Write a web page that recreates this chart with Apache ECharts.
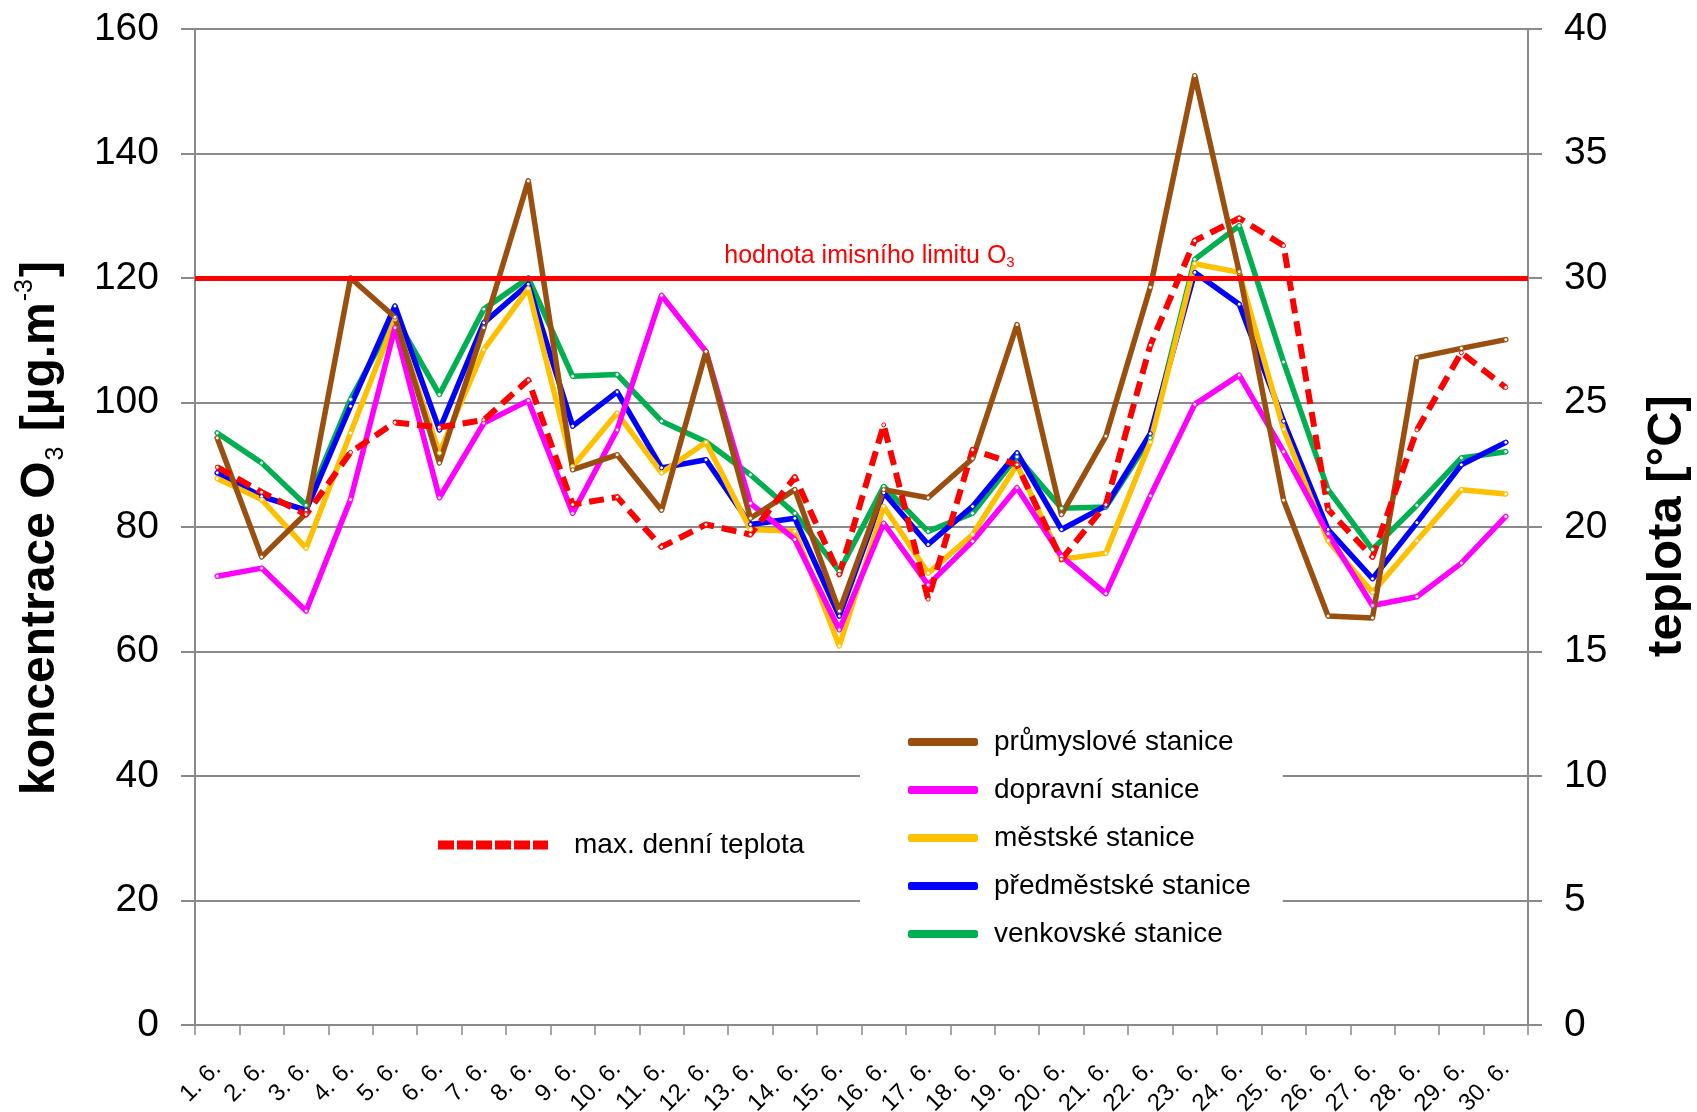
<!DOCTYPE html>
<html>
<head>
<meta charset="utf-8">
<script src="https://cdn.jsdelivr.net/npm/echarts@6/dist/echarts.min.js"></script>
<style>
  html, body { margin: 0; padding: 0; background: #fff; }
  #chart { width: 1697px; height: 1112px; }
</style>
</head>
<body>
<div id="chart"></div>
<script>
// Dny měsíce června
const dny = ['1. 6.', '2. 6.', '3. 6.', '4. 6.', '5. 6.', '6. 6.', '7. 6.', '8. 6.', '9. 6.', '10. 6.',
  '11. 6.', '12. 6.', '13. 6.', '14. 6.', '15. 6.', '16. 6.', '17. 6.', '18. 6.', '19. 6.', '20. 6.',
  '21. 6.', '22. 6.', '23. 6.', '24. 6.', '25. 6.', '26. 6.', '27. 6.', '28. 6.', '29. 6.', '30. 6.'];

// Maximální denní 8h koncentrace O3 [µg.m-3] podle typu stanice
const prumyslove = [94.3, 75.2, 82.2, 120, 113.7, 90.3, 112, 135.6, 89.2, 91.6, 82.7, 108.2, 81.4, 86, 66.5,
  86, 84.7, 91, 112.5, 82, 94.6, 118.5, 152.5, 121, 84.3, 65.7, 65.4, 107.2, 108.7, 110.1];
const dopravni = [72.1, 73.4, 66.5, 84.4, 112, 84.7, 96.7, 100.3, 82.2, 95.6, 117.2, 108.2, 83.8, 78, 63.5,
  80.6, 70.7, 77.7, 86.3, 75.3, 69.3, 85, 99.7, 104.4, 92.1, 78.9, 67.4, 68.8, 74.2, 81.7];
const mestske = [87.8, 84.4, 76.6, 95.1, 113.4, 91.9, 108.5, 118.3, 89.7, 98.3, 88.7, 93.6, 79.6, 79.3, 60.9,
  83.3, 72.6, 78.8, 90, 74.8, 75.8, 93.6, 122.3, 120.9, 95.7, 77.8, 69.5, 77.8, 86, 85.3];
const predmestske = [88.7, 84.9, 82.7, 99.4, 115.5, 95.6, 112.8, 119, 96.2, 101.7, 89.5, 90.8, 80.4, 81.4, 65.7,
  85.5, 77.2, 83.3, 91.9, 79.6, 83.4, 95, 120.9, 115.8, 97, 79.6, 71.7, 80.7, 90, 93.6];
const venkovske = [95.1, 90.3, 83.5, 100.5, 113.7, 101.3, 115, 120, 104.2, 104.5, 97, 93.7, 88.4, 82.2, 72.9,
  86.5, 79.3, 82.2, 91.3, 83, 83.2, 94.3, 123, 128.4, 106.5, 86, 76.4, 83.5, 91.1, 92.1];

// Maximální denní teplota [°C]
const teplota = [22.4, 21.4, 20.5, 23.0, 24.2, 24.0, 24.3, 25.9, 20.9, 21.2, 19.2, 20.1, 19.7, 22.0, 18.1,
  24.1, 17.1, 23.1, 22.5, 18.7, 20.9, 27.3, 31.5, 32.4, 31.3, 20.7, 18.8, 23.9, 27.0, 25.6];

// Imisní limit O3
const limitO3 = 120;

const barvy = {
  prumyslove: '#9a4f0f',
  dopravni: '#ff00ff',
  mestske: '#ffc000',
  predmestske: '#0000ff',
  venkovske: '#00b050',
  teplota: '#ff0000'
};

const FONT = 'Liberation Sans, Arial, sans-serif';
const GRID_GRAY = '#8a8a8a';

function lineSeries(name, data, color, extra) {
  return Object.assign({
    name: name,
    type: 'line',
    data: data,
    yAxisIndex: 0,
    symbol: 'circle',
    symbolSize: 4,
    showSymbol: true,
    itemStyle: { color: '#fff', borderColor: color, borderWidth: 1 },
    lineStyle: { color: color, width: 5.5, cap: 'round', join: 'round' },
    emphasis: { disabled: true },
    animation: false
  }, extra || {});
}

const chart = echarts.init(document.getElementById('chart'), null, { renderer: 'canvas' });

chart.setOption({
  backgroundColor: '#fff',
  textStyle: { fontFamily: FONT },
  grid: { left: 195, right: 169, top: 29, bottom: 87, containLabel: false, outerBoundsMode: 'none' },
  legend: [
    {
      orient: 'vertical',
      left: 860,
      top: 714,
      padding: [14, 32, 12, 48],
      backgroundColor: '#fff',
      itemWidth: 68,
      itemHeight: 6,
      itemGap: 20,
      selectedMode: false,
      textStyle: { fontFamily: FONT, fontSize: 28, color: '#000', padding: [0, 0, 0, 12] },
      data: [
        { name: 'průmyslové stanice', icon: 'roundRect', itemStyle: { color: barvy.prumyslove } },
        { name: 'dopravní stanice', icon: 'roundRect', itemStyle: { color: barvy.dopravni } },
        { name: 'městské stanice', icon: 'roundRect', itemStyle: { color: barvy.mestske } },
        { name: 'předměstské stanice', icon: 'roundRect', itemStyle: { color: barvy.predmestske } },
        { name: 'venkovské stanice', icon: 'roundRect', itemStyle: { color: barvy.venkovske } }
      ]
    },
    {
      orient: 'horizontal',
      left: 438,
      top: 831,
      padding: 0,
      itemWidth: 108,
      itemHeight: 7,
      selectedMode: false,
      textStyle: { fontFamily: FONT, fontSize: 28, color: '#000', padding: [0, 0, 0, 22] },
      data: [
        {
          name: 'max. denní teplota',
          icon: 'path://M0,0h14v7h-14z M19,0h14v7h-14z M38,0h14v7h-14z M57,0h14v7h-14z M76,0h14v7h-14z M95,0h13v7h-13z',
          itemStyle: { color: barvy.teplota }
        }
      ]
    }
  ],
  xAxis: {
    type: 'category',
    data: dny,
    boundaryGap: true,
    axisLine: { lineStyle: { color: GRID_GRAY, width: 2 } },
    axisTick: { show: true, interval: 0, length: 10, lineStyle: { color: GRID_GRAY, width: 1.5 } },
    axisLabel: { interval: 0, rotate: 45, fontSize: 24, color: '#000', margin: 40, fontFamily: FONT }
  },
  yAxis: [
    {
      type: 'value',
      min: 0,
      max: 160,
      interval: 20,
      axisLine: { show: true, lineStyle: { color: GRID_GRAY, width: 2 } },
      axisTick: { show: true, length: 14, lineStyle: { color: GRID_GRAY, width: 2 } },
      axisLabel: { fontSize: 39, color: '#000', margin: 36, fontFamily: FONT },
      splitLine: { show: true, lineStyle: { color: GRID_GRAY, width: 2 } }
    },
    {
      type: 'value',
      min: 0,
      max: 40,
      interval: 5,
      position: 'right',
      axisLine: { show: true, lineStyle: { color: GRID_GRAY, width: 2 } },
      axisTick: { show: true, length: 14, lineStyle: { color: GRID_GRAY, width: 2 } },
      axisLabel: { fontSize: 39, color: '#000', margin: 36, fontFamily: FONT },
      splitLine: { show: false }
    }
  ],
  graphic: [
    {
      type: 'text',
      x: 41,
      y: 528,
      rotation: Math.PI / 2,
      silent: true,
      style: {
        text: '{t|koncentrace O}{sub|3}{t| [µg.m}{sup|-3}{t|]}',
        align: 'center',
        verticalAlign: 'middle',
        fill: '#000',
        rich: {
          t: { fontFamily: FONT, fontWeight: 'bold', fontSize: 48, lineHeight: 56, verticalAlign: 'middle' },
          sub: { fontFamily: FONT, fontSize: 25, lineHeight: 24, verticalAlign: 'bottom', padding: [0, 2, 0, 1] },
          sup: { fontFamily: FONT, fontSize: 25, lineHeight: 24, verticalAlign: 'top', padding: [0, 2, 0, 1] }
        }
      }
    },
    {
      type: 'text',
      x: 1667,
      y: 526,
      rotation: Math.PI / 2,
      silent: true,
      style: {
        text: 'teplota [°C]',
        align: 'center',
        verticalAlign: 'middle',
        fill: '#000',
        font: 'bold 49px ' + FONT
      }
    }
  ],
  series: [
    lineSeries('venkovské stanice', venkovske, barvy.venkovske),
    lineSeries('předměstské stanice', predmestske, barvy.predmestske),
    lineSeries('městské stanice', mestske, barvy.mestske),
    lineSeries('dopravní stanice', dopravni, barvy.dopravni),
    lineSeries('průmyslové stanice', prumyslove, barvy.prumyslove, {
      markLine: {
        silent: true,
        symbol: 'none',
        animation: false,
        lineStyle: { color: '#ff0000', width: 5, type: 'solid' },
        label: {
          show: true,
          position: 'insideMiddleTop',
          distance: 8,
          offset: [8, 0],
          formatter: '{a|hodnota imisního limitu O}{b|3}',
          rich: {
            a: { fontFamily: FONT, fontSize: 25, color: '#ff0000', lineHeight: 28, verticalAlign: 'middle' },
            b: { fontFamily: FONT, fontSize: 15, color: '#ff0000', lineHeight: 15, verticalAlign: 'bottom' }
          }
        },
        emphasis: { disabled: true },
        data: [{ yAxis: limitO3 }]
      }
    }),
    lineSeries('max. denní teplota', teplota, barvy.teplota, {
      yAxisIndex: 1,
      lineStyle: { color: barvy.teplota, width: 6, type: [15, 8], cap: 'butt', join: 'round' }
    })
  ]
});
</script>
</body>
</html>
